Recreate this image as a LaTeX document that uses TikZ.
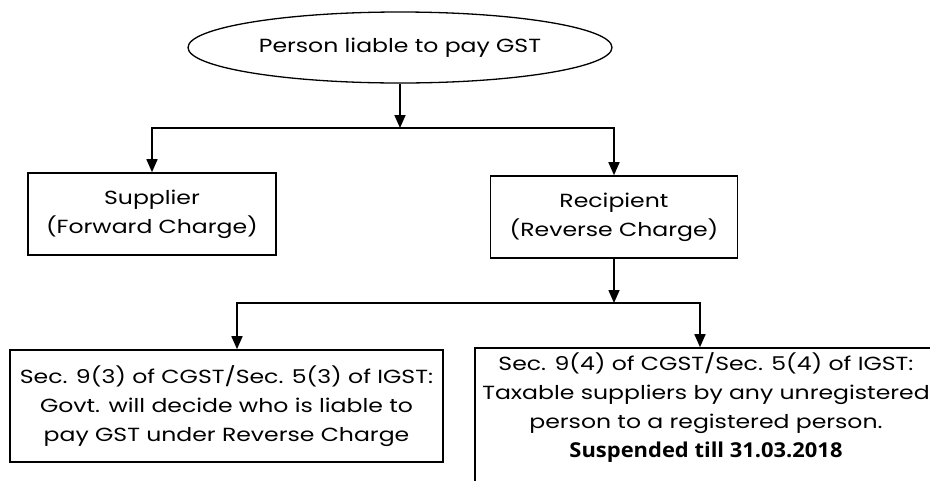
\documentclass[tikz,border=0pt]{standalone}
\usepackage{fontspec}
\setmainfont[FakeStretch=1.24]{Poppins}
\newfontfamily\notefont[FakeStretch=1.07]{Open Sans}
\usetikzlibrary{positioning, arrows.meta, shapes.geometric}
\tikzset{
    >={Triangle[length=13pt, width=11pt]}, % filled arrow heads
    every node/.style={font=\fontsize{19}{29}\selectfont, align=center},
    box/.style={draw, line width=1.6pt, inner sep=0pt}, % the rectangles
    root/.style={ellipse, draw, line width=1.3pt, minimum width=424pt, minimum height=71pt},
    link/.style={line width=1.6pt}, % the connectors
}

\begin{document}
\begin{tikzpicture}[x=1pt, y=1pt]
                            \useasboundingbox (0,0) rectangle (930,-480);
                            \clip (0,0) rectangle (930,-480);
                            \node[root] (root) at (400,-47.5) {Person liable to pay GST};
                            \node[box, below of=root, node distance=166.5pt, xshift=-248pt, minimum width=248pt, minimum height=82pt] (sup) {Supplier\\(Forward Charge)};
                            \node[box, right of=sup, node distance=462pt, yshift=-3pt, minimum width=247pt, minimum height=82pt] (rec) {Recipient\\(Reverse Charge)};
                            \node[box, below of=sup, node distance=192pt, xshift=74.5pt, minimum width=433pt, minimum height=112pt] (s93) {Sec. 9(3) of CGST/Sec. 5(3) of IGST:\\Govt. will decide who is liable to\\pay GST under Reverse Charge};
                            \node[box, below of=rec, node distance=207pt, xshift=92pt, minimum width=462pt, inner ysep=4pt, text height=105pt, text depth=39pt] (s94) {Sec. 9(4) of CGST/Sec. 5(4) of IGST:\\Taxable suppliers by any unregistered\\person to a registered person.\\{\notefont\fontsize{20.5}{29}\selectfont\bfseries Suspended till 31.03.2018}};
                            \coordinate[below of=root, node distance=80.5pt] (split1);
                            \coordinate[below of=rec, node distance=86pt] (split2);
                            \coordinate (t93) at ([xshift=10.5pt]s93.north);
                            \coordinate (t94) at ([xshift=-6pt]s94.north);
                            \draw[link, ->] (root) -- (split1);
                            \draw[link, ->] (split1) -| (sup);
                            \draw[link, ->] (split1) -| (rec);
                            \draw[link, ->] (rec) -- (split2);
                            \draw[link, ->] (split2) -| (t93);
                            \draw[link, ->] (split2) -| (t94);
                        \end{tikzpicture}
\end{document}
